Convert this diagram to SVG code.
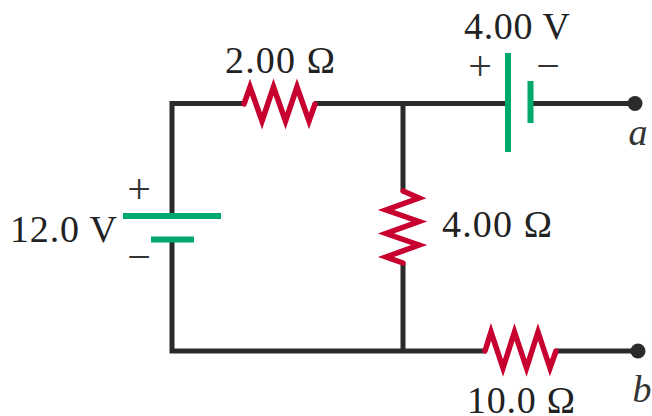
<svg xmlns="http://www.w3.org/2000/svg" width="652" height="416" viewBox="0 0 652 416">
<style>
.w{fill:none;stroke:#2b2b2b;stroke-width:5}
.r{fill:none;stroke:#c8002f;stroke-width:5.500;stroke-linejoin:miter;stroke-miterlimit:6;stroke-linecap:round}
.b{fill:none;stroke:#00a86b;stroke-width:6}
.t{font-family:"Liberation Serif",serif;font-size:38px;fill:#222}
.s{font-family:"Liberation Serif",serif;font-size:42px;fill:#333;text-anchor:middle}
.i{font-family:"Liberation Serif",serif;font-style:italic;font-size:38px;fill:#333;text-anchor:middle}
</style>
<rect width="652" height="416" fill="#fff"/>
<g id="connectors">
<path class="w" d="M172 216V103.500H245M314 103.500H505M403 103.500V190M403 263V351M172 240V351H485M556 351H638M533 103.500H635"/>
</g>
<g id="battery-12v">
<path class="b" d="M123 216H221M151 239.500H194"/>
<text class="t" x="10" y="242" textLength="107">12.0 V</text>
<text class="s" x="139" y="203">+</text>
<text class="s" x="139" y="271">−</text>
</g>
<g id="battery-4v">
<path class="b" d="M508 53V152M530.500 81V123"/>
<text class="t" x="464" y="39" textLength="106">4.00 V</text>
<text class="s" x="480" y="80">+</text>
<text class="s" x="548" y="80">−</text>
</g>
<g id="resistor-2">
<path class="r" d="M244 104L250 87L262 121L273.500 87L285.500 121L297 87L309 121L315 104"/>
<text class="t" x="225" y="73" textLength="110">2.00 Ω</text>
</g>
<g id="resistor-4">
<path class="r" d="M403 191L419 198L386 210L419 221.500L386 233.500L419 245L386 257L403 263"/>
<text class="t" x="442" y="237" textLength="110">4.00 Ω</text>
</g>
<g id="resistor-10">
<path class="r" d="M485 351L491 332L503 368L514.500 332L526.500 368L538 332L550 368L556 351"/>
<text class="t" x="467" y="413" textLength="108">10.0 Ω</text>
</g>
<g id="terminal-a">
<circle cx="635" cy="103.500" r="7.500" fill="#2b2b2b"/>
<text class="i" x="638" y="145">a</text>
</g>
<g id="terminal-b">
<circle cx="638" cy="351" r="7.500" fill="#2b2b2b"/>
<text class="i" x="642" y="402">b</text>
</g>
</svg>
